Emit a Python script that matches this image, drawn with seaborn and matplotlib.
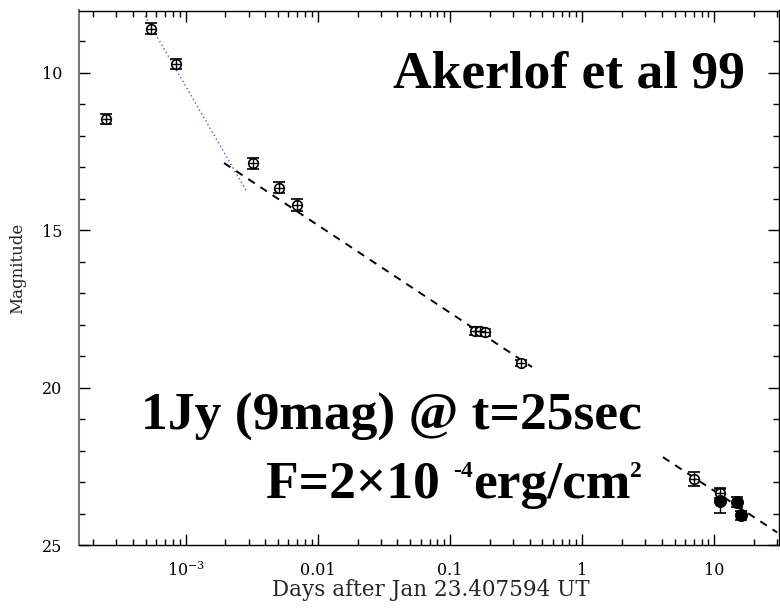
import numpy as np
import seaborn as sns
import matplotlib.pyplot as plt
from matplotlib.ticker import FixedLocator, FixedFormatter, LogLocator, MultipleLocator, NullFormatter

sns.set_style("ticks")
plt.rcParams['font.family'] = ['DejaVu Serif']
plt.rcParams['mathtext.fontset'] = 'custom'
plt.rcParams['mathtext.rm'] = 'DejaVu Serif'

# open symbols
t_open = [2.52e-4, 5.43e-4, 8.4e-4, 3.21e-3, 5.08e-3, 6.98e-3, 0.154, 0.168, 0.183, 0.344, 7.0, 11.0]
mag_open = [11.47, 8.61, 9.73, 12.88, 13.65, 14.20, 18.20, 18.22, 18.25, 19.23, 22.91, 23.35]
err_open = [0.16, 0.17, 0.17, 0.18, 0.17, 0.18, 0.12, 0.12, 0.12, 0.10, 0.22, 0.15]

# filled symbols
t_filled = [11.0, 14.9, 15.9]
mag_filled = [23.61, 23.64, 24.06]
err_filled = [0.38, 0.16, 0.15]

# power-law fits (end points)
early_t = [4.93e-4, 2.91e-3]
early_mag = [8.2, 13.79]
mid_t = [1.95e-3, 0.417]
mid_mag = [12.87, 19.35]
late_t = [4.08, 29.8]
late_mag = [22.21, 24.60]

xtick_vals = [1e-3, 0.01, 0.1, 1, 10]
xtick_labels = ["10$^{-3}$", "0.01", "0.1", "1", "10"]
ytick_vals = [10, 15, 20, 25]

fig = plt.figure(figsize=(7.8, 6.08), dpi=100)
ax = fig.add_axes([79.3 / 780, 1 - 545 / 608, (779 - 79.3) / 780, (545 - 10.5) / 608])
ax.set_xscale("log")

sns.lineplot(x=early_t, y=early_mag, color="#5050ee", linestyle=(0, (1, 2)), linewidth=1.0, ax=ax)
sns.lineplot(x=mid_t, y=mid_mag, color="black", linestyle=(0, (4, 3.5)), linewidth=1.4, ax=ax)
sns.lineplot(x=late_t, y=late_mag, color="black", linestyle=(0, (4, 3.5)), linewidth=1.4, ax=ax)

ax.errorbar(t_open, mag_open, yerr=err_open, fmt="none", ecolor="black",
            elinewidth=1.0, capsize=4.5, capthick=1.2)
ax.errorbar(t_filled, mag_filled, yerr=err_filled, fmt="none", ecolor="black",
            elinewidth=1.0, capsize=4.5, capthick=1.2)
sns.scatterplot(x=t_open, y=mag_open, marker="o", s=48, facecolor="white",
                edgecolor="black", linewidth=1.2, ax=ax, zorder=3)
sns.scatterplot(x=t_open, y=mag_open, marker="+", s=48, color="black",
                linewidth=1.0, ax=ax, zorder=4)
sns.scatterplot(x=t_filled, y=mag_filled, marker="o", s=75, color="black",
                edgecolor="black", ax=ax, zorder=3)

ax.set_xlim(1.57e-4, 30.8)
ax.set_ylim(25, 8.03)

ax.xaxis.set_major_locator(FixedLocator(xtick_vals))
ax.xaxis.set_major_formatter(FixedFormatter(xtick_labels))
ax.xaxis.set_minor_locator(LogLocator(base=10, subs=np.arange(2, 10), numticks=20))
ax.xaxis.set_minor_formatter(NullFormatter())
ax.yaxis.set_major_locator(FixedLocator(ytick_vals))
ax.yaxis.set_minor_locator(MultipleLocator(1))

ax.tick_params(which="both", direction="in", top=True, right=True, colors="black",
               labelsize=11.5)
ax.tick_params(which="major", length=8, width=1.0)
ax.tick_params(which="minor", length=4.5, width=1.0)
ax.tick_params(axis="x", pad=12)
ax.tick_params(axis="y", pad=12)

for side in ["top", "right", "bottom"]:
    ax.spines[side].set_color("black")
    ax.spines[side].set_linewidth(1.0)
ax.spines["left"].set_color("#777777")
ax.spines["left"].set_linewidth(1.5)
ax.set_xlabel("")
ax.set_ylabel("")

fig.text(431 / 780, 1 - 590 / 608, "Days after Jan 23.407594 UT", ha="center", va="center",
         fontsize=15.5)
fig.text(18 / 780, 1 - 268 / 608, "Magnitude", ha="center", va="center",
         rotation=90, fontsize=12)

big = dict(family="Liberation Serif", weight="bold", fontsize=38.5, color="black")
small = dict(family="Liberation Serif", weight="bold", fontsize=17, color="black")
fig.text(745 / 780, 1 - 88 / 608, "Akerlof et al 99", ha="right", va="baseline", **big)
fig.text(642 / 780, 1 - 430 / 608, "1Jy (9mag) @ t=25sec", ha="right", va="baseline", **big)

# flux line built from pieces so the superscripts stay small
pieces = [("F=2×10 ", big, 0), ("-4", small, 21), ("erg/cm", big, 0), ("2", small, 21)]
renderer = fig.canvas.get_renderer()
widths = []
for s, style, _ in pieces:
    t = fig.text(0, 0, s, **style)
    widths.append(t.get_window_extent(renderer).width)
    t.remove()
x_px = 642 - sum(widths)
for (s, style, lift), w in zip(pieces, widths):
    fig.text(x_px / 780, 1 - (498 - lift) / 608, s, ha="left", va="baseline", **style)
    x_px += w

plt.savefig("out.png", dpi=100)
